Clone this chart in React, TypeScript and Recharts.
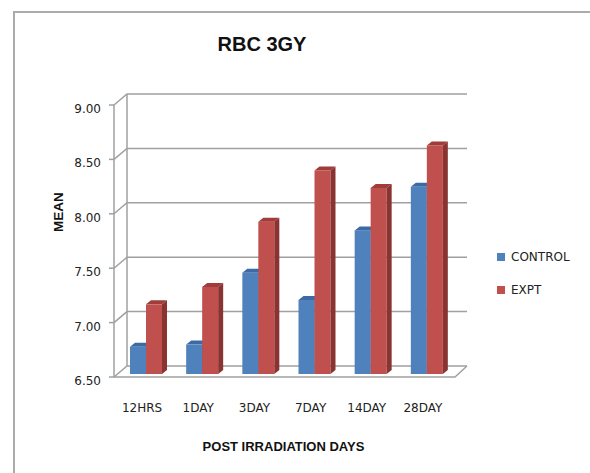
import React from 'react';
import { BarChart, Bar, XAxis, YAxis, CartesianGrid, Legend } from 'recharts';

const categories = ['12HRS', '1DAY', '3DAY', '7DAY', '14DAY', '28DAY'];
const controlValues = [6.75, 6.77, 7.43, 7.18, 7.82, 8.22];
const exptValues = [7.14, 7.30, 7.90, 8.37, 8.21, 8.60];
const yTicks = [6.5, 7.0, 7.5, 8.0, 8.5, 9.0];
const seriesNames = ['CONTROL', 'EXPT'];
const titleText = 'RBC 3GY';
const xTitle = 'POST IRRADIATION DAYS';
const yTitle = 'MEAN';

const data = categories.map((c, i) => ({ cat: c, control: controlValues[i], expt: exptValues[i] }));

const W = 590;
const H = 473;
const M = { top: 102, right: 135, bottom: 69, left: 58 };
const YW = 60;
const XH = 30;
const DX = 5;
const DY = 4;
const GRID = '#A0A0A0';
const FONT = "'DejaVu Sans', sans-serif";
const BFONT = "'Liberation Sans', Arial, sans-serif";

const COLORS = {
  control: { front: '#4F81BD', top: '#3C6AA4', side: '#36598A' },
  expt: { front: '#C0504D', top: '#A03C39', side: '#8A3431' },
};

const make3D = (c: { front: string; top: string; side: string }) => (props: any) => {
  const { x, y, width, height } = props;
  if (width == null || height == null) return null;
  const w = width, h = height;
  return (
    <g>
      <rect x={x} y={y} width={w} height={h} fill={c.front} />
      <polygon points={`${x},${y} ${x + DX},${y - DY} ${x + w + DX},${y - DY} ${x + w},${y}`} fill={c.top} />
      <polygon points={`${x + w},${y} ${x + w + DX},${y - DY} ${x + w + DX},${y + h - DY} ${x + w},${y + h}`} fill={c.side} />
    </g>
  );
};

const gridLine = (props: any) => {
  const { x1, x2, y1, y, height, index } = props;
  const bottom = y + height;
  const isBottom = Math.abs(y1 - bottom) < 0.5;
  const isTop = Math.abs(y1 - y) < 0.5;
  return (
    <g key={`g-${index}`}>
      <path d={`M${x1 - 4},${y1 + 3} L${x1 + 9},${y1 - 8} L${x2 + 12},${y1 - 8}`} fill="none" stroke={GRID} strokeWidth={1.5} />
      {isBottom && (
        <path d={`M${x1 - 4},${y1 + 3} L${x2},${y1 + 3} L${x2 + 12},${y1 - 8}`} fill="none" stroke={GRID} strokeWidth={1.5} />
      )}
      {isTop && (
        <g>
          <line x1={x1 - 4} y1={y1 + 3} x2={x1 - 4} y2={bottom + 3} stroke={GRID} strokeWidth={1.5} />
          <line x1={x1 + 9} y1={y1 - 8} x2={x1 + 9} y2={bottom - 8} stroke={GRID} strokeWidth={1.5} />
        </g>
      )}
    </g>
  );
};

const YTick = (props: any) => {
  const { y, payload } = props;
  const left = M.left + YW;
  return (
    <g>
      <line x1={left - 9} y1={y + 3} x2={left - 4} y2={y + 3} stroke={GRID} strokeWidth={1.5} />
      <text x={left - 17} y={y + 7} textAnchor="end" dominantBaseline="central" fontFamily={FONT} fontSize={12} fill="#222">
        {Number(payload.value).toFixed(2)}
      </text>
    </g>
  );
};

const XTick = (props: any) => {
  const { x, y, payload } = props;
  return (
    <text x={x - 4} y={y + 26} textAnchor="middle" dominantBaseline="central" fontFamily={FONT} fontSize={12} fill="#222">
      {payload.value}
    </text>
  );
};

const LegendContent = (props: any) => {
  const items = props.payload || [];
  return (
    <div style={{ fontFamily: FONT, fontSize: 12, color: '#222' }}>
      {items.map((it: any, i: number) => (
        <div key={i} style={{ display: 'flex', alignItems: 'center', height: 16, marginBottom: i === 0 ? 17 : 0 }}>
          <span style={{ display: 'inline-block', width: 8, height: 8, background: it.color, marginRight: 6 }} />
          <span>{it.value}</span>
        </div>
      ))}
    </div>
  );
};

export default function App() {
  return (
    <div style={{ position: 'absolute', left: 0, top: 0, width: W, height: H, background: '#fff', overflow: 'hidden' }}>
      <div style={{ position: 'absolute', left: 13, top: 11, width: 700, height: 600, borderLeft: '2px solid #ABABAB', borderTop: '2px solid #ABABAB' }} />
      <div style={{ position: 'absolute', left: 0, top: 0 }}>
        <BarChart width={W} height={H} data={data} margin={M} barGap={0} barSize={16}>
          <text x={262} y={44} textAnchor="middle" dominantBaseline="central" fontFamily={BFONT} fontWeight="bold" fontSize={20} fill="#111">
            {titleText}
          </text>
          <CartesianGrid vertical={false} horizontal={gridLine} stroke={GRID} />
          <XAxis
            dataKey="cat"
            axisLine={false}
            tickLine={false}
            height={XH}
            tick={<XTick />}
            interval={0}
            label={{ value: xTitle, position: 'bottom', offset: 38, dx: -3, fontFamily: BFONT, fontWeight: 'bold', fontSize: 13, fill: '#111' }}
          />
          <YAxis
            domain={[6.5, 9]}
            ticks={yTicks}
            width={YW}
            axisLine={false}
            tickLine={false}
            tick={<YTick />}
            label={{
              content: () => (
                <text
                  x={58}
                  y={212}
                  transform="rotate(-90 58 212)"
                  textAnchor="middle"
                  dominantBaseline="central"
                  fontFamily={BFONT}
                  fontWeight="bold"
                  fontSize={13.5}
                  fill="#111"
                >
                  {yTitle}
                </text>
              ),
            }}
          />
          <Legend
            layout="vertical"
            align="center"
            verticalAlign="middle"
            content={<LegendContent />}
            wrapperStyle={{ left: 497, top: 249, width: 90 }}
          />
          <Bar dataKey="control" name={seriesNames[0]} fill={COLORS.control.front} shape={make3D(COLORS.control)} isAnimationActive={false} />
          <Bar dataKey="expt" name={seriesNames[1]} fill={COLORS.expt.front} shape={make3D(COLORS.expt)} isAnimationActive={false} />
        </BarChart>
      </div>
    </div>
  );
}
